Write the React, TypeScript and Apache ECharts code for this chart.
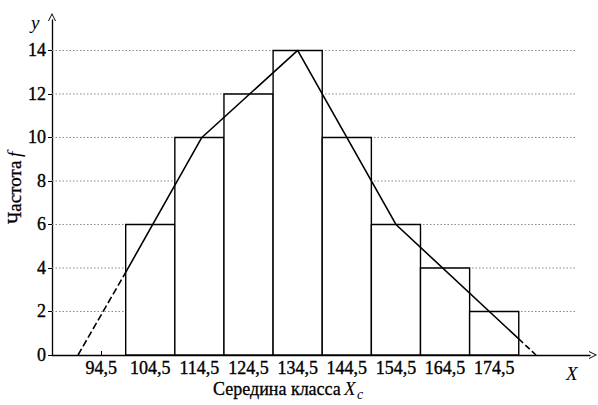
import React, { useEffect, useRef } from "react";
import * as echarts from "echarts";

// Class midpoints and frequencies (histogram)
const classMid = [104.5, 114.5, 124.5, 134.5, 144.5, 154.5, 164.5, 174.5];
const freq = [6, 10, 12, 14, 10, 6, 4, 2];
const classWidth = 10;

// Tick labels
const xTicks = [94.5, 104.5, 114.5, 124.5, 134.5, 144.5, 154.5, 164.5, 174.5];
const yTicks = [0, 2, 4, 6, 8, 10, 12, 14];
const gridValues = [2, 4, 6, 8, 10, 12, 14];

// Fitted polygon line
const lineLeftDashed = [[89.8, 0], [99.5, 3.8]];
const lineSolid = [[99.5, 3.8], [115, 10], [134.5, 14], [154.5, 6], [179.5, 0.74]];
const lineRightDashed = [[179.5, 0.74], [183, 0]];

const X_MIN = 84.5;
const X_MAX = 194;
const GRID_END = 191;
const Y_MAX = 15.4;

const FONT = "Liberation Serif";
const INK = "#000";
const chevron = "path://M0,10 L5,0 L10,10 L8.8,10 L5,2.4 L1.2,10 Z";

export default function App() {
  const ref = useRef<HTMLDivElement>(null);
  useEffect(() => {
    if (!ref.current) return;
    const chart = echarts.init(ref.current, null, { renderer: "svg" });
    const fmt = (v: number) => String(v).replace(".", ",");
    const labelStyle = {
      color: INK,
      fontFamily: FONT,
      fontSize: 18,
      textBorderColor: INK,
      textBorderWidth: 0.35,
    };
    chart.setOption({
      animation: false,
      backgroundColor: "#ffffff",
      textStyle: { fontFamily: FONT },
      grid: { left: 52, right: 8, top: 20, bottom: 50 },
      xAxis: {
        type: "value",
        min: X_MIN,
        max: X_MAX,
        axisLine: {
          show: true,
          lineStyle: { color: INK, width: 1.3 },
          symbol: ["none", chevron],
          symbolSize: [8, 11],
          symbolOffset: [0, 3],
        },
        axisTick: { show: true, inside: true, length: 4, customValues: xTicks, lineStyle: { color: INK, width: 1 } },
        axisLabel: { customValues: xTicks, formatter: fmt, margin: 4, ...labelStyle },
        splitLine: { show: false },
      },
      yAxis: {
        type: "value",
        min: 0,
        max: Y_MAX,
        axisLine: {
          show: true,
          lineStyle: { color: INK, width: 1.3 },
          symbol: ["none", chevron],
          symbolSize: [8, 11],
          symbolOffset: [0, 3],
        },
        axisTick: { show: true, inside: false, length: 4, customValues: yTicks, lineStyle: { color: INK, width: 1 } },
        axisLabel: { customValues: yTicks, margin: 6, ...labelStyle },
        splitLine: { show: false },
      },
      graphic: [
        {
          type: "text",
          x: 213,
          y: 380,
          style: {
            text: "Середина класса",
            fill: INK,
            stroke: INK,
            lineWidth: 0.3,
            fontFamily: FONT,
            fontSize: 18,
          },
        },
        {
          type: "text",
          x: 344,
          y: 379,
          style: { text: "X", fill: INK, fontFamily: FONT, fontSize: 19, fontStyle: "italic" },
        },
        {
          type: "text",
          x: 357,
          y: 387,
          style: { text: "c", fill: INK, fontFamily: FONT, fontSize: 14, fontStyle: "italic" },
        },
        {
          type: "text",
          x: 5,
          y: 224,
          rotation: Math.PI / 2,
          style: {
            text: "Частота",
            fill: INK,
            stroke: INK,
            lineWidth: 0.3,
            fontFamily: FONT,
            fontSize: 19,
          },
        },
        {
          type: "text",
          x: 5,
          y: 157,
          rotation: Math.PI / 2,
          style: { text: "f", fill: INK, fontFamily: FONT, fontSize: 19, fontStyle: "italic" },
        },
        {
          type: "text",
          x: 31,
          y: 13,
          style: { text: "y", fill: INK, fontFamily: FONT, fontSize: 19, fontStyle: "italic" },
        },
        {
          type: "text",
          x: 566,
          y: 364,
          style: { text: "X", fill: INK, fontFamily: FONT, fontSize: 19, fontStyle: "italic" },
        },
      ],
      series: [
        {
          type: "custom",
          z: 1,
          silent: true,
          data: gridValues,
          renderItem: (params: any, api: any) => {
            const v = api.value(0);
            const a = api.coord([X_MIN, v]);
            const b = api.coord([GRID_END, v]);
            return {
              type: "line",
              shape: { x1: a[0], y1: a[1], x2: b[0], y2: b[1] },
              style: { stroke: "#888", lineWidth: 1, lineDash: [1.5, 2] },
            };
          },
        },
        {
          type: "custom",
          z: 2,
          silent: true,
          data: classMid.map((c, i) => [c, freq[i]]),
          renderItem: (params: any, api: any) => {
            const c = api.value(0);
            const f = api.value(1);
            const tl = api.coord([c - classWidth / 2, f]);
            const br = api.coord([c + classWidth / 2, 0]);
            return {
              type: "rect",
              shape: { x: tl[0], y: tl[1], width: br[0] - tl[0], height: br[1] - tl[1] },
              style: { fill: "#fff", stroke: INK, lineWidth: 1.4 },
            };
          },
        },
        {
          type: "line",
          z: 3,
          silent: true,
          data: lineSolid,
          showSymbol: false,
          symbol: "none",
          lineStyle: { color: INK, width: 1.6 },
        },
        {
          type: "line",
          z: 3,
          silent: true,
          data: lineLeftDashed,
          showSymbol: false,
          symbol: "none",
          lineStyle: { color: INK, width: 1.6, type: [7, 3] },
        },
        {
          type: "line",
          z: 3,
          silent: true,
          data: lineRightDashed,
          showSymbol: false,
          symbol: "none",
          lineStyle: { color: INK, width: 1.6, type: [6, 3] },
        },
      ],
    });
    return () => chart.dispose();
  }, []);
  return (
    <div
      ref={ref}
      style={{ position: "fixed", left: 0, top: 0, width: 598, height: 405, background: "#fff" }}
    />
  );
}
